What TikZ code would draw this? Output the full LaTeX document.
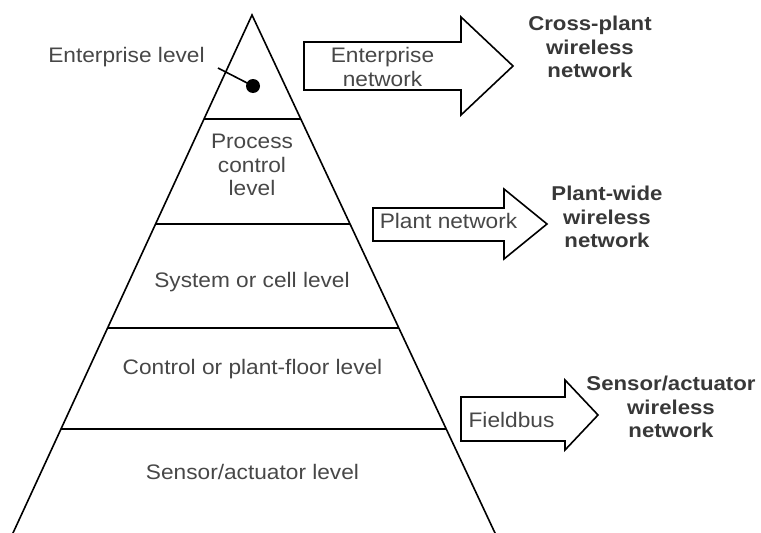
\documentclass[tikz,border=0pt]{standalone}
\usepackage{fontspec}
\setmainfont{Liberation Sans}[FakeStretch=1.08]
\newfontfamily\netfont{Liberation Sans}[FakeStretch=1.11]
\usetikzlibrary{calc}
\begin{document}
\begin{tikzpicture}[x=1pt,y=-1pt,
  edge/.style={line width=1.6pt, black},
  lvl/.style={font=\fontsize{21}{23.5}\selectfont, text=black!72, align=center, inner sep=0pt},
  net/.style={font=\netfont\bfseries\fontsize{20}{23.5}\selectfont, text=black!78, align=center, inner sep=0pt},
  flow/.style={line width=1.6pt, line join=miter, fill=white}]
\useasboundingbox (0,0) rectangle (761,533);
\clip (0,0) rectangle (761,533);

% pyramid outline
\coordinate (apex) at (252,15);
\coordinate (bl) at (13,533);
\coordinate (br) at (495,533);
\draw[edge, line join=miter] ($(apex)!1.03!(bl)$) -- (apex) -- ($(apex)!1.03!(br)$);

% level separators
\foreach \t in {0.2008,0.4035,0.6042,0.7992}
  \draw[edge] ($(apex)!\t!(bl)$) -- ($(apex)!\t!(br)$);

% level labels
\node[lvl] (ent) at (126.5,57.5) {Enterprise level};
\node[lvl] (proc) at (252,165) {Process\\control\\level};
\node[lvl] (sys) at (252,282.5) {System or cell level};
\node[lvl] (ctrl) at (252.5,369.5) {Control or plant-floor level};
\node[lvl] (sens) at (252.5,472) {Sensor/actuator level};

% marker for the enterprise level
\node[circle, fill=black, inner sep=0pt, minimum size=14pt] (dot) at (253,86) {};
\coordinate (lead) at (218,68);
\draw[edge] (lead) -- (dot.center);

% network arrows
\draw[flow] (304,42) -- (461,42) -- (461,17) -- (513,66) -- (461,115) -- (461,90) -- (304,90) -- cycle;
\draw[flow] (373,208) -- (504,208) -- (504,189) -- (547,224) -- (504,259) -- (504,241) -- (373,241) -- cycle;
\draw[flow] (461,397) -- (565,397) -- (565,380) -- (598,415) -- (565,450) -- (565,441) -- (461,441) -- cycle;

\node[lvl] (entnet) at (382.5,67) {Enterprise\\network};
\node[lvl] (plantnet) at (448.5,220.5) {Plant network};
\node[lvl] (field) at (511.5,419.5) {Fieldbus};

% wireless counterparts
\node[net] (cross) at (590,47) {Cross-plant\\wireless\\network};
\node[net] (wide) at (607,217) {Plant-wide\\wireless\\network};
\node[net] (sawn) at (671,407) {Sensor/actuator\\wireless\\network};
\end{tikzpicture}
\end{document}
